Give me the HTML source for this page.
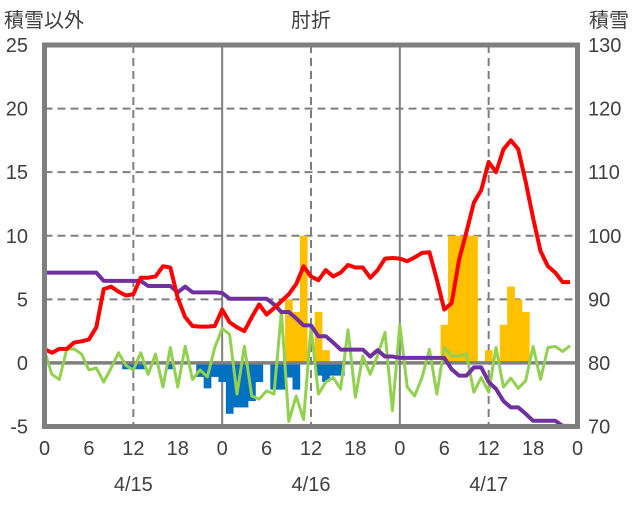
<!DOCTYPE html>
<html><head><meta charset="utf-8"><style>
body{margin:0;background:#fff;}
svg text{font-family:"Liberation Sans","Noto Sans CJK JP",sans-serif;fill:#404040;font-size:20px;}
</style></head><body>
<svg id="chart" width="636" height="501" viewBox="0 0 636 501">
<g id="grid"></g>
<g id="bars"></g>
<g id="lines"></g>
<g id="axes"></g>
</svg>
<script>
const hours = Array.from({length:72},(_,i)=>i);
const redSeries=[1.1,0.8,1.1,1.1,1.6,1.7,1.85,2.8,5.8,6.0,5.6,5.3,5.4,6.7,6.7,6.8,7.6,7.5,5.1,3.6,2.9,2.85,2.85,2.9,4.2,3.2,2.8,2.5,3.6,4.6,3.8,4.3,4.85,5.4,6.2,7.6,6.8,6.5,7.3,6.8,7.1,7.7,7.5,7.5,6.7,7.3,8.2,8.25,8.2,8.0,8.3,8.65,8.7,6.55,4.2,4.7,8.1,10.3,12.6,13.6,15.8,15.0,16.8,17.5,16.8,14.25,11.4,8.8,7.6,7.1,6.35,6.35];
const greenSeries=[0.94,-0.9,-1.3,1.07,1.1,0.7,-0.55,-0.4,-1.5,-0.4,0.8,-0.2,-0.55,0.8,-0.9,0.7,-1.9,1.2,-1.9,1.3,-1.3,-0.55,-1.1,1.2,2.7,2.25,-2.45,1.3,-2.6,-2.85,-2.2,-2.45,4.0,-4.6,-2.6,-4.45,2.8,-2.45,-1.5,-1.15,-2.05,2.6,-2.7,0.55,-0.9,0.6,2.4,-3.75,3.0,-1.9,-2.6,-1.15,1.07,-2.45,1.2,0.55,0.55,0.7,-2.3,-1.15,-2.3,1.2,-1.9,-1.2,-2.0,-1.4,1.3,-1.3,1.2,1.3,0.9,1.35];
const snowDepth=[94.2,94.2,94.2,94.2,94.2,94.2,94.2,94.2,92.9,92.9,92.9,92.9,92.9,92.9,92.1,92.1,92.1,92.1,91.1,92,91.1,91.1,91.1,91.1,91.0,90.1,90.1,90.1,90.1,90.1,90.1,89.2,88,88,87,85.9,85.9,84.2,84.2,83.2,82.1,82.1,82.1,82.1,81,82,81,81,80.8,80.8,80.8,80.8,80.8,80.8,80.8,79,78,78,79.3,79.3,77,75.9,74,73,73,72,70.9,70.9,70.9,70.9,70.1,70.1];
const barValues=[0,0,0,0,0,0,0,0,0,0,0,-0.5,-0.5,-0.5,0,0,0,-0.5,0,0,0,-1.1,-2.0,-1.1,-1.5,-4.0,-3.5,-3.5,-3.0,-1.5,0,-2.1,-2.1,5.0,4.0,10,0,4.0,1.0,-1.0,-1.0,0,0,0,0,0,0,0,0,0,0,0,0,0,3.0,10,10,10,10,0,1.0,0,3.0,6.0,5.0,4.0,0,0,0,0,0,0];
const extraNeg={33:-1.15,34:-2.1,37:-1.0,38:-1.5};
const leftTicks=[25,20,15,10,5,0,-5];
const rightTicks=[130,120,110,100,90,80,70];
const xTickLabels=["0","6","12","18","0","6","12","18","0","6","12","18","0"];
const dateLabels=["4/15","4/16","4/17"];

const X0=44.5,X1=577.5,YT=45,YB=426.5;
const xs=h=>X0+(X1-X0)*h/72;
const yl=v=>YT+(25-v)*(YB-YT)/30;
const yr=v=>YT+(130-v)*(YB-YT)/60;
const NS="http://www.w3.org/2000/svg";
function mk(tag,attrs,parent){const e=document.createElementNS(NS,tag);for(const k in attrs)e.setAttribute(k,attrs[k]);document.getElementById(parent).appendChild(e);return e;}

// grid
[5,10,15,20].forEach(v=>{const l=mk('line',{x1:X0,x2:X1,y1:yl(v),y2:yl(v),stroke:'#7f7f7f','stroke-width':2,'stroke-dasharray':'8,5'},'grid');

});
[12,36,60].forEach(h=>{const l=mk('line',{x1:xs(h),x2:xs(h),y1:YT,y2:YB,stroke:'#7f7f7f','stroke-width':2,'stroke-dasharray':'8,5'},'grid');

});
[24,48].forEach(h=>{const l=mk('line',{x1:xs(h),x2:xs(h),y1:YT,y2:YB,stroke:'#7f7f7f','stroke-width':2},'grid');

});

// bars
const bw=(X1-X0)/72;
barValues.forEach((v,i)=>{
  if(v!==0){const y=Math.min(yl(v),yl(0)),hgt=Math.abs(yl(v)-yl(0));
  const r=mk('rect',{x:xs(i)-bw/2,y:y,width:bw+0.3,height:hgt,fill:v>0?'#ffc000':'#0070c0'},'bars');
  
  }
});
Object.keys(extraNeg).forEach(k=>{const v=extraNeg[k];
  const r=mk('rect',{x:xs(+k)-bw/2,y:yl(0),width:bw+0.3,height:yl(v)-yl(0),fill:'#0070c0'},'bars');
  
  });

// zero line
const z=mk('line',{x1:X0,x2:X1,y1:yl(0),y2:yl(0),stroke:'#7f7f7f','stroke-width':3.5},'lines');



function poly(arr,fy,color,w,name){const p=mk('polyline',{points:arr.map((v,i)=>xs(hours[i])+','+fy(v)).join(' '),fill:'none',stroke:color,'stroke-width':w,'stroke-linejoin':'round'},'lines');

}
poly(greenSeries,yl,'#92d050',3,'green-series-line');
poly(snowDepth,yr,'#7030a0',4,'snow-depth-line');
poly(redSeries,yl,'#ff0000',4,'red-series-line');

// frame
const f=mk('rect',{x:X0,y:YT,width:X1-X0,height:YB-YT,fill:'none',stroke:'#7f7f7f','stroke-width':5},'axes');



leftTicks.forEach(v=>{const t=mk('text',{x:28,y:yl(v)+7,'text-anchor':'end'},'axes');t.textContent=v;

});
rightTicks.forEach(v=>{const t=mk('text',{x:588,y:yr(v)+7},'axes');t.textContent=v;

});
xTickLabels.forEach((s,i)=>{const t=mk('text',{x:xs(i*6),y:455,'text-anchor':'middle'},'axes');t.textContent=s;

});
dateLabels.forEach((s,i)=>{const t=mk('text',{x:xs(12+24*i),y:491,'text-anchor':'middle'},'axes');t.textContent=s;

});
[['積雪以外',4,'start','left-axis-title'],['肘折',311,'middle','chart-title'],['積雪',589,'start','right-axis-title']].forEach(a=>{
const t=mk('text',{x:a[1],y:27,'text-anchor':a[2]},'axes');t.textContent=a[0];

});
</script>
</body></html>
